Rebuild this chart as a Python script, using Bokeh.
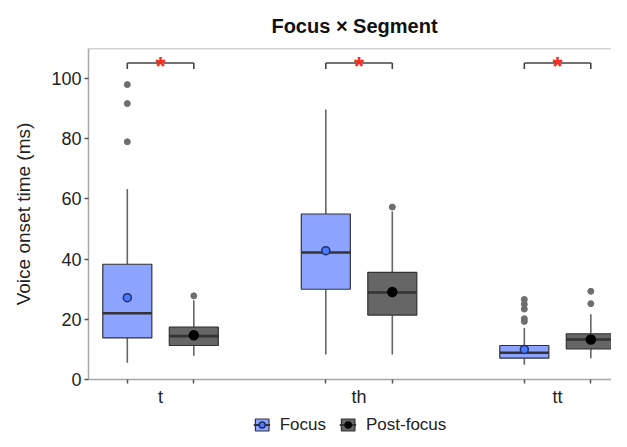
from bokeh.plotting import figure
from bokeh.layouts import column
from bokeh.models import ColumnDataSource, FixedTicker, Legend, LegendItem, Range1d, Span
from bokeh.core.properties import value
from bokeh.embed import file_html
from bokeh.resources import INLINE

segments = ["t", "th", "tt"]
groups = ["Focus", "Post-focus"]

focus_lower = [5.6, 8.3, 4.9]
focus_q1 = [13.8, 30.0, 7.1]
focus_median = [22.0, 42.2, 8.9]
focus_q3 = [38.3, 55.0, 11.3]
focus_upper = [63.3, 89.7, 17.1]
focus_mean = [27.2, 42.8, 10.0]
focus_outliers = [[98.0, 91.7, 79.0], [], [26.6, 25.0, 23.4, 20.2, 19.3]]

post_lower = [7.9, 8.3, 7.1]
post_q1 = [11.3, 21.4, 10.2]
post_median = [14.4, 28.9, 13.3]
post_q3 = [17.4, 35.6, 15.2]
post_upper = [26.3, 55.8, 21.7]
post_mean = [14.7, 29.1, 13.3]
post_outliers = [[27.8], [57.3], [29.3, 25.2]]

significance = ["*", "*", "*"]
y_ticks = [0, 20, 40, 60, 80, 100]

FONT = "Liberation Sans"
OFFSET = 0.1675
BOX_W = 0.247

p = figure(frame_width=532, frame_height=331, x_range=Range1d(0.637, 3.317), y_range=Range1d(0, 110),
           output_backend="svg", toolbar_location=None,
           min_border_left=79, min_border_right=0, min_border_top=41, min_border_bottom=34,
           title="Focus × Segment")
p.outline_line_color = None
p.xgrid.grid_line_color = None
p.ygrid.grid_line_color = None
p.background_fill_color = "white"

p.title.text_font = FONT
p.title.text_font_size = "20px"
p.title.text_font_style = "bold"
p.title.align = "center"
p.title.text_color = "#111111"
p.title.standoff = 24

centers = [i + 1 for i in range(len(segments))]
box_pos = []
for c in centers:
    box_pos += [c - OFFSET, c + OFFSET]

# axes
p.xaxis.ticker = FixedTicker(ticks=centers, minor_ticks=box_pos)
p.xaxis.major_label_overrides = {c: s for c, s in zip(centers, segments)}
p.xaxis.major_tick_line_color = None
p.xaxis.major_tick_out = 3
p.xaxis.major_tick_in = 0
p.xaxis.minor_tick_line_color = "#555555"
p.xaxis.minor_tick_line_width = 1.5
p.xaxis.minor_tick_out = 4
p.xaxis.minor_tick_in = 0
p.xaxis.major_label_standoff = 3
p.xaxis.axis_line_color = "#A8A8A8"
p.xaxis.axis_line_width = 1.5
p.xaxis.major_label_text_font = FONT
p.xaxis.major_label_text_font_size = "18px"
p.xaxis.major_label_text_color = "#222222"

p.yaxis.ticker = FixedTicker(ticks=y_ticks)
p.yaxis.major_tick_out = 4
p.yaxis.major_tick_in = 0
p.yaxis.major_tick_line_color = "#555555"
p.yaxis.major_tick_line_width = 1.5
p.yaxis.minor_tick_line_color = None
p.yaxis.axis_line_color = "#A8A8A8"
p.yaxis.axis_line_width = 1.5
p.yaxis.major_label_text_font = FONT
p.yaxis.major_label_text_font_size = "18px"
p.yaxis.major_label_text_color = "#222222"
p.yaxis.major_label_standoff = 3
p.yaxis.axis_label = "Voice onset time (ms)"
p.yaxis.axis_label_text_font = FONT
p.yaxis.axis_label_text_font_size = "19px"
p.yaxis.axis_label_text_font_style = "normal"
p.yaxis.axis_label_text_color = "#222222"
p.yaxis.axis_label_standoff = 14

p.add_layout(Span(location=110, dimension="width", line_color="#A8A8A8", line_width=1.5))

styles = {
    "Focus": dict(fill="#8CA3FF", mean_fill="#4C7BFF", mean_line="#1F2F66", mean_size=8),
    "Post-focus": dict(fill="#666666", mean_fill="#000000", mean_line="#000000", mean_size=9),
}
series = {
    "Focus": (focus_lower, focus_q1, focus_median, focus_q3, focus_upper, focus_mean, focus_outliers, -OFFSET),
    "Post-focus": (post_lower, post_q1, post_median, post_q3, post_upper, post_mean, post_outliers, OFFSET),
}

# legend figure
lg = figure(width=611, height=23, x_range=Range1d(0, 1), y_range=Range1d(0, 1),
            output_backend="svg", toolbar_location=None, x_axis_type=None, y_axis_type=None,
            min_border_left=88, min_border_right=0, min_border_top=0, min_border_bottom=0)
lg.outline_line_color = None
lg.xgrid.grid_line_color = None
lg.ygrid.grid_line_color = None

legend_items = []
for g in groups:
    lo, q1, med, q3, up, mn, outs, off = series[g]
    st = styles[g]
    xs = [c + off for c in centers]
    src = ColumnDataSource(dict(x=xs, left=[x - BOX_W / 2 for x in xs], right=[x + BOX_W / 2 for x in xs],
                                lo=lo, q1=q1, med=med, q3=q3, up=up, mn=mn))
    p.segment(x0="x", y0="lo", x1="x", y1="q1", source=src, line_color="#666666", line_width=1.6)
    p.segment(x0="x", y0="q3", x1="x", y1="up", source=src, line_color="#666666", line_width=1.6)
    p.quad(left="left", right="right", bottom="q1", top="q3", source=src,
           fill_color=st["fill"], line_color="#333333", line_width=1.2)
    p.segment(x0="left", y0="med", x1="right", y1="med", source=src, line_color="#333333", line_width=2.6)
    ox, oy = [], []
    for x, ol in zip(xs, outs):
        for v in ol:
            ox.append(x)
            oy.append(v)
    p.scatter(ox, oy, size=6, fill_color="#6E6E6E", line_color="#6E6E6E")
    p.scatter(x="x", y="mn", source=src, size=st["mean_size"], fill_color=st["mean_fill"],
              line_color=st["mean_line"], line_width=1.5)

    # legend keys (drawn off-range in the legend strip)
    rq = lg.quad(left=[-5], right=[-4], bottom=[-5], top=[-4],
                 fill_color=st["fill"], line_color="#333333", line_width=1.2)
    rm = lg.segment(x0=[-5], y0=[-5], x1=[-4], y1=[-5], line_color="#333333", line_width=2)
    rmean = lg.scatter([-5], [-5], size=st["mean_size"], fill_color=st["mean_fill"],
                       line_color=st["mean_line"], line_width=1.5)
    legend_items.append(LegendItem(label=g, renderers=[rq, rm, rmean]))

# significance brackets
bx0 = [c - OFFSET for c in centers]
bx1 = [c + OFFSET for c in centers]
br_top = [105.2] * len(centers)
br_leg = [103.2] * len(centers)
p.segment(x0=bx0, y0=br_top, x1=bx1, y1=br_top, line_color="#444444", line_width=1.6)
p.segment(x0=bx0, y0=br_leg, x1=bx0, y1=br_top, line_color="#444444", line_width=1.6)
p.segment(x0=bx1, y0=br_leg, x1=bx1, y1=br_top, line_color="#444444", line_width=1.6)
p.text(x=centers, y=[104.2] * len(centers), text=significance, text_color="#FF2A1A",
       text_font=value(FONT), text_font_size="26px", text_font_style="bold",
       text_align="center", text_baseline="alphabetic")

legend = Legend(items=legend_items, orientation="horizontal", location="center",
                border_line_color=None, background_fill_alpha=0,
                label_text_font=FONT, label_text_font_size="17px", label_text_color="#222222",
                glyph_width=17, glyph_height=15, spacing=13, label_standoff=10,
                padding=1, margin=0)
lg.add_layout(legend, "center")

layout = column(p, lg, spacing=0)
open("out.html", "w").write(file_html(layout, INLINE))
